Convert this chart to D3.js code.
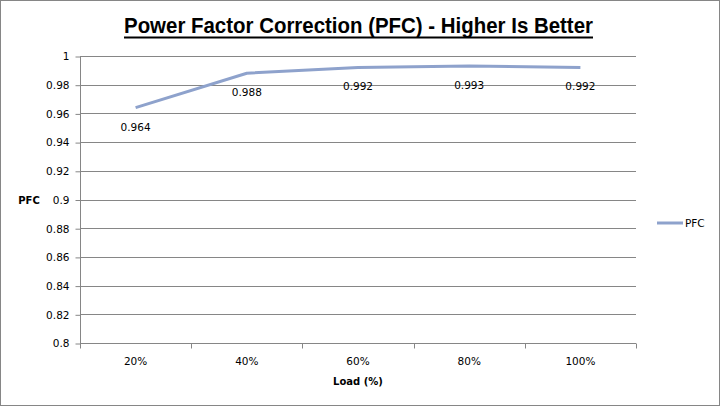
<!DOCTYPE html>
<html><head><meta charset="utf-8">
<script src="https://cdn.jsdelivr.net/npm/d3@7"></script>
<style>body{margin:0;background:#fff}svg{display:block}</style>
</head><body>
<script>
const categories = ["20%","40%","60%","80%","100%"];
const pfcValues = [0.964,0.988,0.992,0.993,0.992];
const yTicks = [0.8,0.82,0.84,0.86,0.88,0.9,0.92,0.94,0.96,0.98,1];
const yTickLabels = ["0.8","0.82","0.84","0.86","0.88","0.9","0.92","0.94","0.96","0.98","1"];
const seriesName = "PFC";

const W=720,H=406;
const svg=d3.select("body").append("svg").attr("width",W).attr("height",H);
svg.append("rect").attr("x",0.5).attr("y",0.5).attr("width",W-1).attr("height",H-1).attr("fill","#fff").attr("stroke","#868686");

const pL=80,pR=636,pT=56,pB=343;
const x=d3.scaleBand().domain(categories).range([pL,pR]).paddingInner(0).paddingOuter(0);
const y=d3.scaleLinear().domain([0.8,1]).range([pB,pT]);
const font="'DejaVu Sans', Verdana, sans-serif";
const grid="#868686";

// gridlines
svg.append("g").selectAll("line").data(yTicks.slice(1)).join("line")
  .attr("x1",pL).attr("x2",pR).attr("y1",d=>Math.round(y(d))+0.5).attr("y2",d=>Math.round(y(d))+0.5)
  .attr("stroke",grid).attr("stroke-width",1);

// y axis
const ya=svg.append("g").attr("transform",`translate(${pL+0.5},0.5)`)
  .call(d3.axisLeft(y).tickValues(yTicks).tickFormat((d,i)=>yTickLabels[i]).tickSize(5).tickPadding(6));
ya.selectAll("text").attr("font-family",font).attr("font-size",10.5).attr("fill","#000");
ya.selectAll("line,path").attr("stroke",grid);
ya.select(".domain").attr("d",`M0,${pT}V${pB}`);

// x axis
const xa=svg.append("g").attr("transform",`translate(0,${pB+0.5})`)
  .call(d3.axisBottom(x).tickSize(0).tickPadding(14));
xa.selectAll("text").attr("font-family",font).attr("font-size",10.5).attr("fill","#000");
xa.select(".domain").attr("stroke",grid).attr("d",`M${pL},0H${pR}`);
const boundaries=categories.map(c=>x(c)).concat([x(categories[categories.length-1])+x.bandwidth()]);
xa.selectAll(".bt").data(boundaries).join("line").attr("class","bt")
  .attr("x1",d=>Math.round(d)+0.5).attr("x2",d=>Math.round(d)+0.5).attr("y1",0).attr("y2",5).attr("stroke",grid);

// line
const cx=c=>x(c)+x.bandwidth()/2;
svg.append("path").datum(pfcValues)
  .attr("d",d3.line().x((d,i)=>cx(categories[i])).y(d=>y(d)))
  .attr("fill","none").attr("stroke","#8EA2CC").attr("stroke-width",3).attr("stroke-linejoin","round");

// data labels
svg.append("g").selectAll("text").data(pfcValues).join("text")
  .attr("x",(d,i)=>cx(categories[i])).attr("y",d=>y(d)+23)
  .attr("text-anchor","middle").attr("font-family",font).attr("font-size",10.5).attr("fill","#000")
  .text(d=>d3.format(".3f")(d));

// title
svg.append("text").attr("x",358.5).attr("y",33).attr("text-anchor","middle")
  .attr("font-family","'Liberation Sans', Arial, sans-serif").attr("font-weight","bold").attr("font-size",22)
  .attr("textLength",469).attr("lengthAdjust","spacingAndGlyphs").attr("fill","#000")
  .text("Power Factor Correction (PFC) - Higher Is Better");
svg.append("line").attr("x1",124).attr("x2",593).attr("y1",37.5).attr("y2",37.5).attr("stroke","#000").attr("stroke-width",2);

// axis titles
svg.append("text").attr("x",29).attr("y",204).attr("text-anchor","middle")
  .attr("font-family",font).attr("font-weight","bold").attr("font-size",10).text("PFC");
svg.append("text").attr("x",358).attr("y",385).attr("text-anchor","middle")
  .attr("font-family",font).attr("font-weight","bold").attr("font-size",10).text("Load (%)");

// legend
svg.append("line").attr("x1",657).attr("x2",683).attr("y1",223).attr("y2",223).attr("stroke","#8EA2CC").attr("stroke-width",3);
svg.append("text").attr("x",685).attr("y",227).attr("font-family",font).attr("font-size",10.5).text(seriesName);
</script>
</body></html>
